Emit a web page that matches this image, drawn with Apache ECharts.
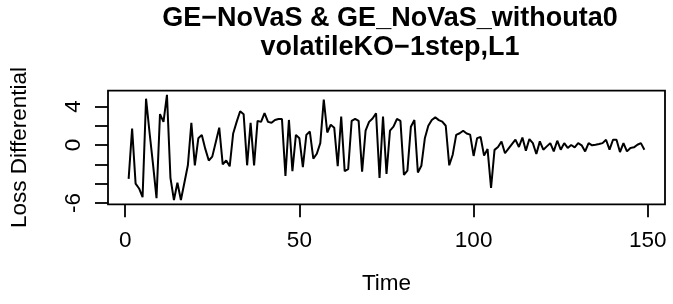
<!DOCTYPE html>
<html lang="en">
<head>
	<meta charset="UTF-8">
	<title>Loss Differential</title>
	<style>
		html, body { margin: 0; padding: 0; background: #fff; }
	</style>
</head>
<body>
	<div id="main" style="width: 673px;height: 304px"></div>
	<script src="https://cdn.jsdelivr.net/npm/echarts@6/dist/echarts.min.js"></script>
	<script>
		// loss differential, one value per time step (1..149)
		var lossDiff = [
			-3.5, 1.7, -4.0, -4.5, -5.4, 4.8, 1.3, -2.0, -5.5, 3.2,
			2.4, 5.2, -3.4, -5.7, -3.9, -5.7, -3.9, -2.1, 2.3, -2.1,
			0.7, 1.05, -0.4, -1.6, -1.2, 0.3, 1.8, -2.0, -1.6, -2.2,
			1.2, 2.4, 3.5, 3.2, -2.1, 2.3, -2.1, 2.5, 2.4, 3.3,
			2.4, 2.3, 2.6, 2.7, 2.7, -3.2, 2.6, -2.7, 1.05, 0.7,
			-2.3, 1.05, 1.4, -1.4, -0.9, 0.2, 4.7, 1.3, 2.1, 1.8,
			-2.2, 2.95, -2.7, -2.5, 2.5, 2.7, 2.5, -2.75, 1.5, 2.4,
			2.75, 3.3, -3.4, 2.95, -3.0, 1.5, 1.9, 2.7, 2.5, -3.1,
			-2.65, 1.9, 2.6, -2.85, -2.15, 0.7, 2.0, 2.6, 2.87, 2.58,
			2.42, 2.0, -2.1, -1.0, 1.05, 1.22, 1.48, 1.2, 1.08, -1.13,
			0.72, 0.83, -1.1, -0.42, -4.45, -0.5, -0.2, 0.37, -0.85, -0.37,
			0.1, 0.56, -0.2, 0.78, -0.58, 0.62, 0.2, -0.93, 0.38, -0.48,
			-0.14, 0.2, -0.66, 0.45, -0.48, 0.2, -0.3, 0.0, -0.24, 0.2,
			-0.03, -0.66, 0.2, -0.03, 0.03, 0.1, 0.2, 0.55, -0.48, 0.55,
			0.55, -0.73, 0.2, -0.66, -0.3, -0.24, 0.03, 0.2, -0.48
		];
		var xTicks = [0, 50, 100, 150];
		var yTicks = [-6, -4, -2, 0, 2, 4];
		var yLabels = [-6, 0, 4];

		var points = [];
		for (var i = 0; i < lossDiff.length; i++) {
			points.push([i + 1, lossDiff[i]]);
		}

		var font = 'Liberation Sans, Arial, Helvetica, sans-serif';
		var myChart = echarts.init(document.getElementById('main'));
		var option = {
			animation: false,
			title: {
				text: 'GE−NoVaS & GE_NoVaS_withouta0\nvolatileKO−1step,L1',
				left: 385,
				top: -1,
				textAlign: 'center',
				textStyle: {
					fontFamily: font,
					fontSize: 27,
					fontWeight: 'bold',
					lineHeight: 29,
					color: '#000'
				}
			},
			grid: {
				left: 104,
				right: 8,
				top: 90.6,
				bottom: 99.7,
				show: true,
				borderColor: '#000',
				borderWidth: 1.8
			},
			xAxis: {
				type: 'value',
				min: -4.92,
				max: 154.92,
				name: 'Time',
				nameLocation: 'middle',
				nameGap: 68,
				nameTextStyle: { fontFamily: font, fontSize: 22.5, color: '#000' },
				axisLine: { show: false, onZero: false },
				splitLine: { show: false },
				axisTick: {
					show: true,
					length: 13,
					customValues: xTicks,
					lineStyle: { color: '#000', width: 1.8 }
				},
				axisLabel: {
					customValues: xTicks,
					margin: 25,
					fontFamily: font,
					fontSize: 22.5,
					color: '#000'
				}
			},
			yAxis: {
				type: 'value',
				min: -6.14,
				max: 5.64,
				name: 'Loss Differential',
				nameLocation: 'middle',
				nameGap: 77,
				nameTextStyle: { fontFamily: font, fontSize: 22.5, color: '#000' },
				axisLine: { show: false, onZero: false },
				splitLine: { show: false },
				axisTick: {
					show: true,
					length: 13,
					customValues: yTicks,
					lineStyle: { color: '#000', width: 1.8 }
				},
				axisLabel: {
					customValues: yLabels,
					rotate: 90,
					margin: 23,
					fontFamily: font,
					fontSize: 22.5,
					color: '#000'
				}
			},
			series: [{
				type: 'line',
				data: points,
				symbol: 'none',
				lineStyle: { color: '#000', width: 2 }
			}]
		};
		myChart.setOption(option);
	</script>
</body>
</html>
